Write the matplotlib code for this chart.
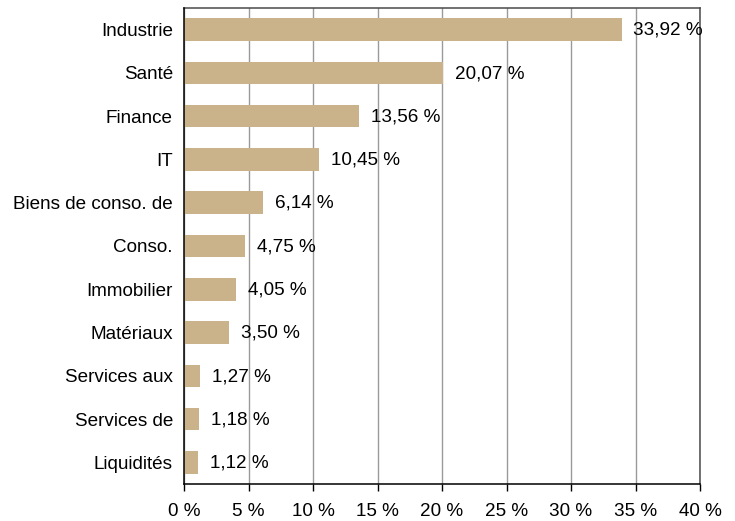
import matplotlib
matplotlib.use("Agg")
import matplotlib.pyplot as plt
from matplotlib.ticker import FuncFormatter

categories = ["Industrie", "Santé", "Finance", "IT", "Biens de conso. de", "Conso.",
              "Immobilier", "Matériaux", "Services aux", "Services de", "Liquidités"]
values = [33.92, 20.07, 13.56, 10.45, 6.14, 4.75, 4.05, 3.50, 1.27, 1.18, 1.12]
xticks = [0, 5, 10, 15, 20, 25, 30, 35, 40]

plt.rcParams['font.family'] = ['Liberation Sans', 'DejaVu Sans']
FS = 13.6

fig = plt.figure(figsize=(7.35, 5.21), dpi=100)
ax = fig.add_axes([184/735, 1 - 484/521, (700 - 184)/735, (484 - 8)/521])

ypos = list(range(len(categories)))
ax.barh(ypos, values, height=0.52, color="#CAB38B", zorder=3)
for y, v in zip(ypos, values):
    ax.annotate(f"{v:.2f} %".replace(".", ","), xy=(v, y), xytext=(8.5, -0.5),
                textcoords="offset points", va="center", ha="left",
                fontsize=FS, color="black", zorder=4)

ax.set_ylim(len(categories) - 0.5, -0.5)
ax.set_yticks(ypos)
ax.set_yticklabels(categories, fontsize=FS)
ax.set_xlim(0, 40)
ax.set_xticks(xticks)
ax.xaxis.set_major_formatter(FuncFormatter(lambda x, p: f"{int(x)} %"))
ax.tick_params(axis="x", labelsize=FS, length=5, width=1, direction="out", pad=9, color="black")
ax.tick_params(axis="y", length=0, pad=8)
for lbl in ax.get_yticklabels():
    lbl.set_y(lbl.get_position()[1])
ax.grid(axis="x", color="#9A9A9A", linewidth=1, zorder=0)
ax.set_axisbelow(True)
for s in ["left", "bottom"]:
    ax.spines[s].set_color("black")
    ax.spines[s].set_linewidth(1.1)
    ax.spines[s].set_zorder(5)
for s in ["top", "right"]:
    ax.spines[s].set_color("#4A4A4A")
    ax.spines[s].set_linewidth(1.1)

fig.savefig("out.png", dpi=100)
